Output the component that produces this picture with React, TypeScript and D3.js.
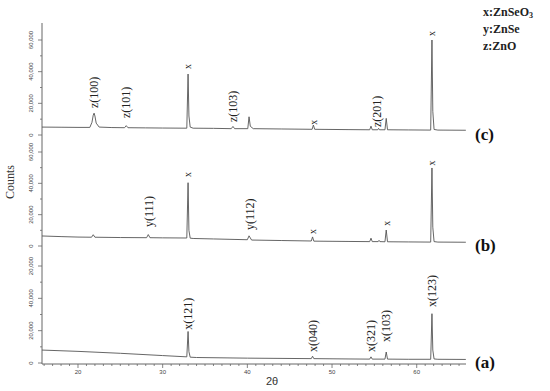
import React from 'react';
import * as d3 from 'd3';

// XRD patterns, [2θ, counts]
const traceC: [number, number][] = [
  [15.75, 5000], [18, 4900], [20, 4800], [21.4, 4800], [21.65, 8000], [21.8, 12500], [21.9, 13800],
  [22.0, 12000], [22.15, 7500], [22.5, 5000], [24, 4700], [25.5, 4600], [25.7, 5900], [25.9, 4600],
  [28, 4500], [30, 4400], [32.85, 4300], [33.0, 38500], [33.1, 12000], [33.25, 5000], [33.6, 4300],
  [36, 4200], [38.1, 4000], [38.3, 5400], [38.5, 4000], [40.05, 4000], [40.2, 11500], [40.35, 5500],
  [40.7, 4000], [44, 3800], [47.65, 3600], [47.8, 6300], [47.95, 3600], [52, 3400], [54.45, 3300],
  [54.6, 5600], [54.75, 3300], [55.4, 3300], [55.5, 4200], [55.6, 3300], [56.25, 3300], [56.4, 10500],
  [56.55, 3300], [59, 3200], [61.65, 3100], [61.8, 60000], [61.9, 15000], [62.05, 3500], [62.5, 3100],
  [65.8, 3000],
];

const traceB: [number, number][] = [
  [15.75, 6400], [18, 6000], [20, 5700], [21.6, 5600], [21.8, 7200], [22.0, 5600], [25, 5400],
  [28.1, 5300], [28.3, 7300], [28.5, 5300], [30, 5200], [32.85, 5100], [33.0, 40400], [33.1, 10000],
  [33.25, 5000], [33.6, 4800], [36, 4500], [40.0, 4000], [40.2, 6500], [40.5, 3800], [44, 3500],
  [47.55, 3200], [47.7, 5800], [47.85, 3100], [52, 2900], [54.45, 2800], [54.6, 5000], [54.75, 2800],
  [55.45, 2800], [55.55, 3600], [55.65, 2800], [56.25, 2700], [56.4, 10200], [56.55, 2700], [59, 2600],
  [61.65, 2500], [61.8, 49800], [61.9, 12000], [62.05, 2800], [62.5, 2500], [65.8, 2400],
];

const traceA: [number, number][] = [
  [15.75, 8000], [20, 7200], [25, 6000], [30, 4600], [32.85, 3800], [33.0, 19500], [33.1, 7000],
  [33.25, 3600], [34, 3400], [40, 3000], [47.55, 2700], [47.7, 4200], [47.85, 2700], [52, 2500],
  [54.45, 2400], [54.6, 3800], [54.75, 2400], [56.25, 2400], [56.4, 6800], [56.55, 2400], [59, 2300],
  [61.65, 2300], [61.8, 30500], [61.9, 8000], [62.05, 2500], [62.5, 2300], [65.8, 2200],
];

// peak labels: [2θ, counts at label foot, text]
const labelsC: [number, number, string][] = [
  [21.9, 17000, 'z(100)'], [25.7, 10700, 'z(101)'], [33.0, 41700, 'x'], [38.3, 8200, 'z(103)'],
  [47.8, 6500, 'x'], [55.3, 5000, 'z(201)'], [61.8, 62500, 'x'],
];
const labelsB: [number, number, string][] = [
  [28.4, 12100, 'y(111)'], [33.0, 44000, 'x'], [40.3, 10200, 'y(112)'], [47.7, 7700, 'x'],
  [56.4, 13000, 'x'], [61.8, 51400, 'x'],
];
const labelsA: [number, number, string][] = [
  [33.0, 20500, 'x(121)'], [47.7, 6800, 'x(040)'], [54.6, 6800, 'x(321)'], [56.4, 13000, 'x(103)'],
  [61.8, 34600, 'x(123)'],
];

const xTicks = [20, 30, 40, 50, 60];
const yTicks = [0, 20000, 40000, 60000];
const yTickLabelsC = ['0', '20,000', '40,000', '60,000'];
const yTickLabelsB = ['0', '20,000', '40,000', '60,000'];
const yTickLabelsA = ['0', '20,000', '40,000', '20,000'];
const legend = ['x:ZnSeO', 'y:ZnSe', 'z:ZnO'];

const W = 550, H = 391;
const left = 42, right = 466, axisY = 364;

const x = d3.scaleLinear().domain([15.75, 65.82]).range([left, right]);

const panels = [
  { tag: '(c)', data: traceC, labels: labelsC, tickLabels: yTickLabelsC, y: d3.scaleLinear().domain([0, 60000]).range([135, 40]) },
  { tag: '(b)', data: traceB, labels: labelsB, tickLabels: yTickLabelsB, y: d3.scaleLinear().domain([0, 60000]).range([246, 152]) },
  { tag: '(a)', data: traceA, labels: labelsA, tickLabels: yTickLabelsA, y: d3.scaleLinear().domain([0, 60000]).range([363, 266]) },
];

const serif = '"Liberation Serif", "Times New Roman", serif';
const sans = '"Liberation Sans", Arial, sans-serif';

export default function App() {
  const minorX = d3.range(16, 66, 1);
  const minorY = d3.range(0, 60001, 10000);

  return (
    <svg width={W} height={H} style={{ position: 'absolute', left: 0, top: 0, background: '#fff' }}>
      {/* y axis */}
      <line x1={left} x2={left} y1={23} y2={axisY} stroke="#666" strokeWidth={1} />
      {panels.map((p) => (
        <g key={p.tag}>
          {minorY.map((v) => (
            <line key={v} x1={left - (v % 20000 === 0 ? 4 : 2)} x2={left} y1={p.y(v)} y2={p.y(v)} stroke="#666" strokeWidth={0.8} />
          ))}
          {yTicks.map((v, i) => (
            <text key={v} transform={`translate(${33},${p.y(v)}) rotate(-90)`} textAnchor="middle" fontSize={6} fontFamily={sans} fill="#444">
              {p.tickLabels[i]}
            </text>
          ))}
          <path
            d={d3.line<[number, number]>().x((d) => x(d[0])).y((d) => p.y(d[1]))(p.data) || ''}
            fill="none" stroke="#555" strokeWidth={0.9}
          />
          {p.labels.map(([t, c, s], i) => (
            <text key={i} transform={`translate(${x(t)},${p.y(c)}) rotate(-90)`} dy="0.33em" fontSize={s === 'x' ? 10 : 12}
              fontFamily={serif} fill="#222">
              {s}
            </text>
          ))}
          <text x={475} y={p.y(0) + 5} fontSize={17} fontWeight="bold" fontFamily={serif} fill="#111">{p.tag}</text>
        </g>
      ))}

      {/* x axis */}
      <line x1={left} x2={right} y1={axisY} y2={axisY} stroke="#666" strokeWidth={1} />
      {minorX.map((v) => (
        <line key={v} x1={x(v)} x2={x(v)} y1={axisY} y2={axisY + (v % 10 === 0 ? 4 : 2)} stroke="#666" strokeWidth={0.8} />
      ))}
      {xTicks.map((v) => (
        <text key={v} x={x(v)} y={374} textAnchor="middle" fontSize={6} fontFamily={sans} fill="#444">{v}</text>
      ))}

      <text x={272} y={385} textAnchor="middle" fontSize={11} fontFamily={sans} fill="#333">2θ</text>
      <text transform="translate(14,182) rotate(-90)" textAnchor="middle" fontSize={12} fontFamily={serif} fill="#333">Counts</text>

      {legend.map((s, i) => (
        <text key={s} x={483} y={16 + i * 17} fontSize={12} fontWeight="bold" fontFamily={serif} fill="#222">
          {s}
          {i === 0 && <tspan fontSize={8} dy={2}>3</tspan>}
        </text>
      ))}
    </svg>
  );
}
